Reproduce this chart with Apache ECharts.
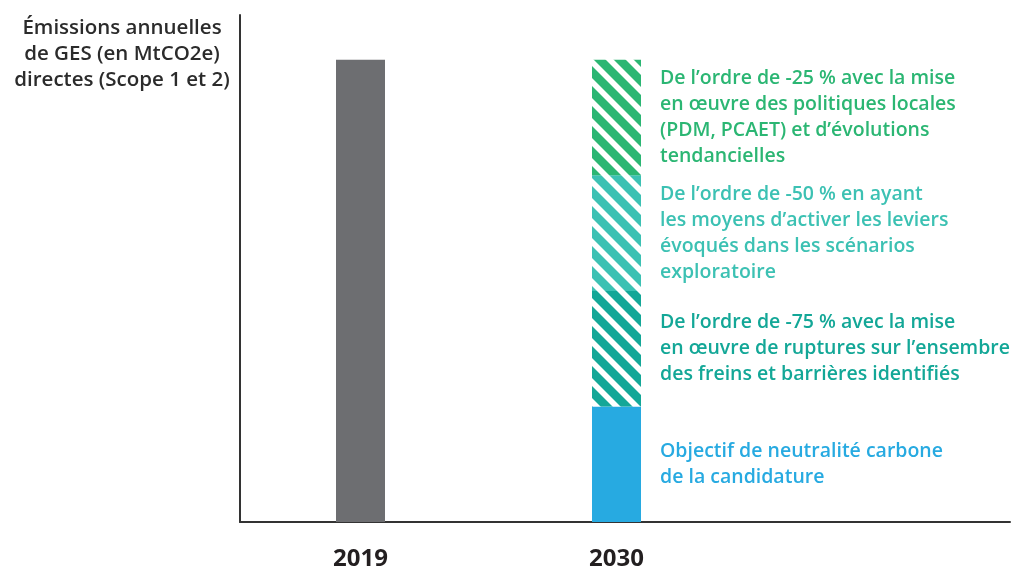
<!DOCTYPE html>
<html>
<head>
<meta charset="utf-8">
<script src="https://cdn.jsdelivr.net/npm/echarts@6/dist/echarts.min.js"></script>
<style>
  html, body { margin: 0; padding: 0; background: #fff; }
  #chart { width: 1013px; height: 567px; }
</style>
</head>
<body>
<div id="chart"></div>
<script>
// Données (base 100 = émissions 2019)
const years = ['2019', '2030'];
const base2019 = [100, '-'];
const neutralite = ['-', 25];
const reduction75 = ['-', 25];
const reduction50 = ['-', 25];
const reduction25 = ['-', 25];

const labelNeutralite = 'Objectif de neutralité carbone\nde la candidature';
const label75 = 'De l\u2019ordre de -75 % avec la mise\nen \u0153uvre de ruptures sur l\u2019ensembre\ndes freins et barrières identifiés';
const label50 = 'De l\u2019ordre de -50 % en ayant\nles moyens d\u2019activer les leviers\névoqués dans les scénarios\nexploratoire';
const label25 = 'De l\u2019ordre de -25 % avec la mise\nen \u0153uvre des politiques locales\n(PDM, PCAET) et d\u2019évolutions\ntendancielles';
const yTitle = 'Émissions annuelles\nde GES (en MtCO2e)\ndirectes (Scope 1 et 2)';

const GREY = '#6d6e71';
const BLUE = '#27aae1';
const DARK_TEAL = '#13a797';
const TEAL = '#3cc1b3';
const GREEN = '#2bb673';
const FONT = '"Open Sans", sans-serif';
const Y_MAX = 109.7;

// motif hachuré (diagonales)
function hatch(color) {
  const c = document.createElement('canvas');
  c.width = 20; c.height = 20;
  const ctx = c.getContext('2d');
  ctx.fillStyle = '#ffffff';
  ctx.fillRect(0, 0, 20, 20);
  ctx.strokeStyle = color;
  ctx.lineWidth = 8.5;
  for (let x0 = -40; x0 <= 40; x0 += 20) {
    ctx.beginPath();
    ctx.moveTo(x0, -20);
    ctx.lineTo(x0 + 60, 40);
    ctx.stroke();
  }
  return { image: c, repeat: 'repeat' };
}

function segLabel(text, color) {
  return {
    show: true,
    position: 'right',
    distance: 19,
    formatter: text,
    color: color,
    fontFamily: FONT,
    fontSize: 19.5,
    fontWeight: 600,
    lineHeight: 26,
    align: 'left'
  };
}

function seg2030(values, fill, textColor, text) {
  return {
    type: 'bar',
    xAxisIndex: 1,
    yAxisIndex: 1,
    stack: 'y2030',
    barWidth: 49,
    barGap: '-100%',
    data: values,
    itemStyle: { color: fill },
    label: segLabel(text, textColor)
  };
}

const chart = echarts.init(document.getElementById('chart'));

chart.setOption({
  backgroundColor: '#ffffff',
  animation: false,
  title: {
    text: yTitle,
    left: 117,
    top: 10,
    textAlign: 'center',
    textStyle: {
      color: '#2b2b2b',
      fontFamily: FONT,
      fontSize: 20.5,
      fontWeight: 600,
      lineHeight: 26
    }
  },
  grid: [
    // cadre des axes
    { left: 240, right: 3, top: 15, bottom: 45, outerBoundsMode: 'none' },
    // colonnes
    { left: 232.5, right: 268.5, top: 15, bottom: 45, outerBoundsMode: 'none' }
  ],
  xAxis: [
    {
      gridIndex: 0,
      type: 'value',
      min: 0,
      max: 1,
      splitLine: { show: false },
      axisLine: { show: true, lineStyle: { color: '#333333', width: 2 } },
      axisTick: { show: false },
      axisLabel: { show: false }
    },
    {
      gridIndex: 1,
      type: 'category',
      data: years,
      axisLine: { show: false },
      axisTick: { show: false },
      axisLabel: {
        color: '#231f20',
        fontFamily: FONT,
        fontSize: 24,
        fontWeight: 700,
        margin: 25
      }
    }
  ],
  yAxis: [
    {
      gridIndex: 0,
      type: 'value',
      min: 0,
      max: Y_MAX,
      splitLine: { show: false },
      axisLine: { show: true, lineStyle: { color: '#333333', width: 2 } },
      axisTick: { show: false },
      axisLabel: { show: false }
    },
    {
      gridIndex: 1,
      type: 'value',
      min: 0,
      max: Y_MAX,
      show: false,
      splitLine: { show: false }
    }
  ],
  series: [
    {
      type: 'bar',
      xAxisIndex: 1,
      yAxisIndex: 1,
      stack: 'y2030',
      barWidth: 49,
      data: base2019,
      itemStyle: { color: GREY }
    },
    seg2030(neutralite, BLUE, BLUE, labelNeutralite),
    seg2030(reduction75, hatch(DARK_TEAL), DARK_TEAL, label75),
    seg2030(reduction50, hatch(TEAL), TEAL, label50),
    seg2030(reduction25, hatch(GREEN), GREEN, label25)
  ]
});
</script>
</body>
</html>
